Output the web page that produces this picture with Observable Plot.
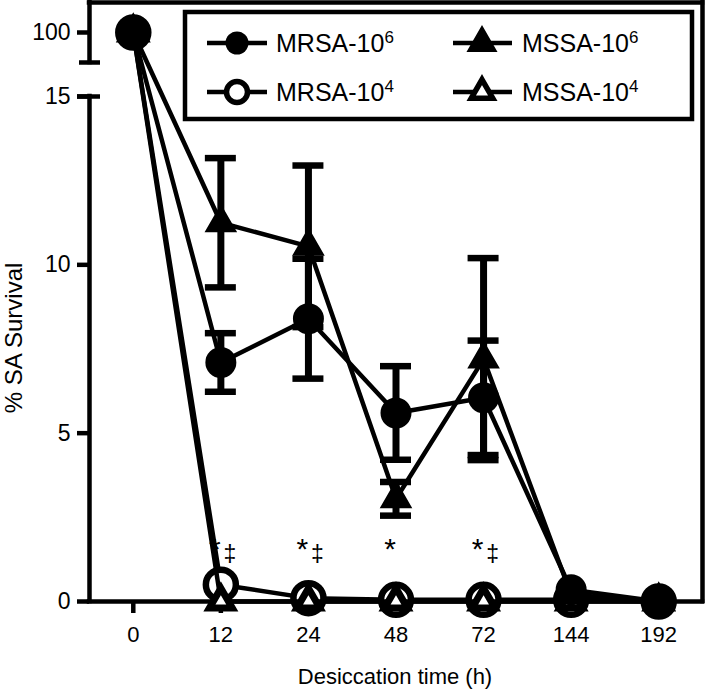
<!DOCTYPE html>
<html><head><meta charset="utf-8">
<script src="https://cdn.jsdelivr.net/npm/d3@7"></script>
<script src="https://cdn.jsdelivr.net/npm/@observablehq/plot@0.6"></script>
<style>
body{margin:0;background:#fff;}
#chart{width:709px;height:696px;}
</style></head><body><div id="chart"></div>
<script>
// ---- data ----
const timeLabels = ["0", "12", "24", "48", "72", "144", "192"];
const mrsa6    = [100, 7.1, 8.4, 5.6, 6.05, 0.35, 0];
const mrsa6Err = [null, 0.87, 1.78, 1.39, 1.7, null, null];
const mssa6    = [100, 11.25, 10.55, 3.05, 7.2, 0.2, 0];
const mssa6Err = [null, 1.92, 2.4, 0.5, 3.0, null, null];
const mrsa4    = [100, 0.5, 0.1, 0.05, 0.05, 0.05, 0];
const mssa4    = [100, 0, 0, 0, 0, 0, 0];
const seriesBase = ["MRSA-10", "MSSA-10", "MRSA-10", "MSSA-10"];
const seriesSup  = ["6", "6", "4", "4"];
const annotTimes  = ["12", "24", "48", "72"];
const annotStar   = ["*", "*", "*", "*"];
const annotDagger = ["‡", "‡", "", "‡"];
const yTicks = [0, 5, 10, 15, 100];

// ---- layout ----
const W = 709, H = 696, ML = 89, MR = 7, MT = 2, MB = 95;
const step = (W - ML - MR) / 7;
const px = p => p / step;
const FONT = "'Liberation Sans', Arial, Helvetica, sans-serif";
const LW = 4.5;

const rows = timeLabels.map((t, i) => ({i, t, mrsa6: mrsa6[i], mrsa6Err: mrsa6Err[i], mssa6: mssa6[i], mssa6Err: mssa6Err[i], mrsa4: mrsa4[i], mssa4: mssa4[i]}));
const errRows = [];
rows.forEach(d => {
  if (d.mrsa6Err != null) errRows.push({i: d.i, v: d.mrsa6, e: d.mrsa6Err});
  if (d.mssa6Err != null) errRows.push({i: d.i, v: d.mssa6, e: d.mssa6Err});
});
const annotRows = annotTimes.map((t, k) => ({i: timeLabels.indexOf(t), star: annotStar[k], dagger: annotDagger[k]}));
const annotY = 1.63;
const capHalf = px(15.5);

const plot = Plot.plot({
  width: W, height: H,
  marginLeft: ML, marginRight: MR, marginTop: MT, marginBottom: MB,
  style: {fontFamily: FONT, background: "white", color: "black", overflow: "visible"},
  x: {type: "linear", domain: [-0.5, 6.5]},
  y: {type: "linear", domain: [0, 15, 96, 104], range: [601, 96, 62, 2]},
  marks: [
    // axes
    Plot.axisY(yTicks, {anchor: "left", tickSize: 12, tickPadding: 7, strokeWidth: LW, fontSize: 23, label: null, tickFormat: d => String(d)}),
    Plot.axisX(d3.range(timeLabels.length), {anchor: "bottom", tickSize: 12, tickPadding: 13, strokeWidth: LW, fontSize: 22, label: null, tickFormat: i => timeLabels[i]}),
    // frame with broken left axis
    Plot.ruleY([104], {x1: -0.5, x2: 6.5, strokeWidth: LW, strokeLinecap: "square"}),
    Plot.ruleY([0], {x1: -0.5, x2: 6.5, strokeWidth: LW, strokeLinecap: "square"}),
    Plot.ruleX([6.5], {y1: 0, y2: 104, strokeWidth: LW, strokeLinecap: "square"}),
    Plot.ruleX([-0.5], {y1: 0, y2: 15, strokeWidth: LW, strokeLinecap: "square"}),
    Plot.ruleX([-0.5], {y1: 96, y2: 104, strokeWidth: LW, strokeLinecap: "square"}),
    Plot.ruleY([15], {x1: -0.5 - px(12), x2: -0.5 + px(11), strokeWidth: LW}),
    Plot.ruleY([96], {x1: -0.5 - px(10), x2: -0.5 + px(11), strokeWidth: LW}),
    // MRSA-10^4 then MSSA-10^4 (line + symbols)
    Plot.line(rows, {x: "i", y: "mrsa4", strokeWidth: LW}),
    Plot.dot(rows, {x: "i", y: "mrsa4", symbol: "circle", r: 15, fill: "white", stroke: "black", strokeWidth: 6.5}),
    Plot.line(rows, {x: "i", y: "mssa4", strokeWidth: LW}),
    Plot.dot(rows, {x: "i", y: "mssa4", symbol: "triangle", r: 8.5, fill: "white", stroke: "black", strokeWidth: 7}),
    // 10^6 series
    Plot.line(rows, {x: "i", y: "mssa6", strokeWidth: LW}),
    Plot.line(rows, {x: "i", y: "mrsa6", strokeWidth: LW}),
    // error bars
    Plot.ruleX(errRows, {x: "i", y1: d => d.v - d.e, y2: d => d.v + d.e, strokeWidth: 7}),
    Plot.ruleY(errRows, {y: d => d.v + d.e, x1: d => d.i - capHalf, x2: d => d.i + capHalf, strokeWidth: 6.5}),
    Plot.ruleY(errRows, {y: d => d.v - d.e, x1: d => d.i - capHalf, x2: d => d.i + capHalf, strokeWidth: 6.5}),
    Plot.dot(rows, {x: "i", y: "mssa6", symbol: "triangle", r: 10.5, fill: "black", stroke: "black", strokeWidth: 2.5}),
    Plot.dot(rows, {x: "i", y: "mrsa6", symbol: "circle", r: 14, fill: "black", stroke: "black", strokeWidth: 3}),
    // significance marks
    Plot.text(annotRows, {x: "i", y: () => annotY, text: "star", fontSize: 30, dx: -6, dy: 3}),
    Plot.text(annotRows, {x: "i", y: () => annotY, text: "dagger", fontSize: 23, dx: 9, dy: 8})
  ]
});

document.getElementById("chart").appendChild(plot);

const svg = d3.select(plot);
// axis titles
svg.append("text").attr("x", 395).attr("y", 684).attr("text-anchor", "middle")
  .attr("font-family", FONT).attr("font-size", 22).attr("fill", "black").text("Desiccation time (h)");
svg.append("text").attr("transform", "translate(22,338) rotate(-90)").attr("text-anchor", "middle")
  .attr("font-family", FONT).attr("font-size", 24).attr("fill", "black").text("% SA Survival");

// legend
const lg = svg.append("g");
lg.append("rect").attr("x", 185).attr("y", 12).attr("width", 507).attr("height", 107)
  .attr("fill", "white").attr("stroke", "black").attr("stroke-width", LW);
const cols = [{lx1: 207, lx2: 267, mx: 237, tx: 276}, {lx1: 453, lx2: 512, mx: 482, tx: 522}];
const rowsY = [43, 92];
const legendItems = [
  {k: 0, col: 0, row: 0, shape: "circle", filled: true},
  {k: 1, col: 1, row: 0, shape: "triangle", filled: true},
  {k: 2, col: 0, row: 1, shape: "circle", filled: false},
  {k: 3, col: 1, row: 1, shape: "triangle", filled: false}
];
legendItems.forEach(it => {
  const c = cols[it.col], y = rowsY[it.row];
  lg.append("line").attr("x1", c.lx1).attr("x2", c.lx2).attr("y1", y).attr("y2", y)
    .attr("stroke", "black").attr("stroke-width", LW);
  if (it.shape === "circle") {
    if (it.filled) lg.append("circle").attr("cx", c.mx).attr("cy", y).attr("r", 11.5).attr("fill", "black");
    else lg.append("circle").attr("cx", c.mx).attr("cy", y).attr("r", 10.5).attr("fill", "white").attr("stroke", "black").attr("stroke-width", 5.5);
  } else {
    if (it.filled) lg.append("path").attr("transform", `translate(${c.mx},${y})`).attr("d", d3.symbol(d3.symbolTriangle, 330)())
      .attr("fill", "black").attr("stroke", "black").attr("stroke-width", 2);
    else lg.append("path").attr("transform", `translate(${c.mx},${y})`).attr("d", d3.symbol(d3.symbolTriangle, 200)())
      .attr("fill", "white").attr("stroke", "black").attr("stroke-width", 5.5);
  }
  const t = lg.append("text").attr("x", c.tx).attr("y", y + 9).attr("text-anchor", "start")
    .attr("font-family", FONT).attr("font-size", 25).attr("fill", "black");
  t.append("tspan").text(seriesBase[it.k]);
  t.append("tspan").attr("font-size", 17).attr("dy", -9).text(seriesSup[it.k]);
});
</script>
</body></html>
